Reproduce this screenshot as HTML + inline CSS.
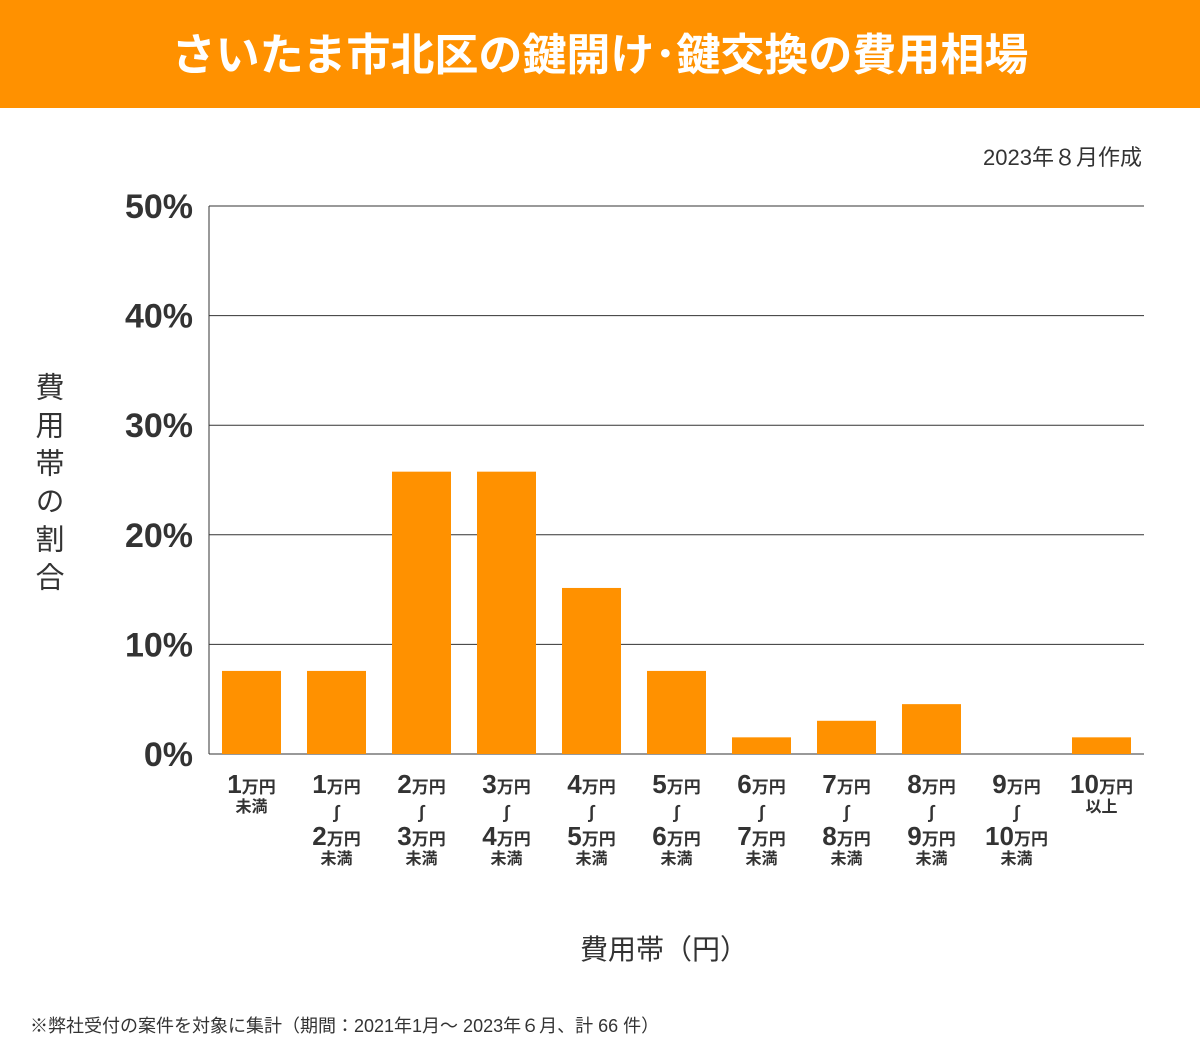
<!DOCTYPE html>
<html><head><meta charset="utf-8"><style>
body{margin:0;width:1200px;height:1041px;background:#fff;font-family:"Liberation Sans","Noto Sans CJK JP",sans-serif;color:#333;position:relative;overflow:hidden}
#title{position:absolute;left:0;top:0;width:1200px;height:108px;background:#FF9100;color:#fff;font-size:44px;font-weight:bold;text-align:center;line-height:112px}
.abs{position:absolute}
</style></head><body>
<div id="title">さいたま市北区の鍵開け･鍵交換の費用相場</div>
<div class="abs" style="right:58px;top:140px;font-size:22px">2023年８月作成</div>
<div class="abs" style="left:26px;top:372px;font-size:29px;writing-mode:vertical-rl;letter-spacing:9px">費用帯の割合</div>
<div class="abs" style="left:580px;top:928px;font-size:28px">費用帯（円）</div>
<div class="abs" style="left:30px;top:1012px;font-size:18px">※弊社受付の案件を対象に集計（期間：2021年1月～ 2023年６月、計 66 件）</div>
<svg id="chart" class="abs" style="left:0;top:0" width="1200" height="1041"></svg>
<script>
const categories=[["1",null],["1","2"],["2","3"],["3","4"],["4","5"],["5","6"],["6","7"],["7","8"],["8","9"],["9","10"],["10","plus"]];
const values=[7.58,7.58,25.76,25.76,15.15,7.58,1.52,3.03,4.55,0,1.52];
const ticks=[0,10,20,30,40,50];
const svg=document.getElementById('chart');
const NS='http://www.w3.org/2000/svg';
const y0=754,y1=206,x0=209,x1=1144,pitch=85,barW=59;
const yS=v=>y0-(v/50)*(y0-y1);
const xS=i=>x0+13+i*pitch;
function mk(t,a){const e=document.createElementNS(NS,t);for(const k in a)e.setAttribute(k,a[k]);svg.appendChild(e);return e;}
ticks.forEach(t=>{
 const l=mk('line',{x1:x0,x2:x1,y1:yS(t),y2:yS(t),stroke:'#333','stroke-width':1});
 
 
 const tx=mk('text',{x:193,y:yS(t)+12,'text-anchor':'end','font-size':34,'font-weight':'bold',fill:'#333'});
 tx.textContent=t+'%';
 
 
});
const ax=mk('line',{x1:x0,x2:x0,y1:y1,y2:y0,stroke:'#333','stroke-width':1});


function lab(x,y,num,sub){
 const t=mk('text',{x:x,y:y,'text-anchor':'middle',fill:'#333','font-weight':'bold'});
 
 
 const a=document.createElementNS(NS,'tspan');a.setAttribute('font-size','26');a.textContent=num;t.appendChild(a);
 const b=document.createElementNS(NS,'tspan');b.setAttribute('font-size','17');b.textContent=sub;t.appendChild(b);
}
function small(x,y,s,sz){
 const t=mk('text',{x:x,y:y,'text-anchor':'middle','font-size':sz||16,'font-weight':'bold',fill:'#333'});
 t.textContent=s;
 
 
}
values.forEach((v,i)=>{
 const r=mk('rect',{x:xS(i),y:yS(v),width:barW,height:y0-yS(v),fill:'#FF9100'});
 
 
 const cx=xS(i)+barW/2;const c=categories[i];
 lab(cx,793,c[0],'万円');
 if(c[1]===null){small(cx,812,'未満');}
 else if(c[1]==='plus'){small(cx,812,'以上');}
 else{small(cx,818,'∫',18);lab(cx,845,c[1],'万円');small(cx,864,'未満');}
});
</script>
</body></html>
